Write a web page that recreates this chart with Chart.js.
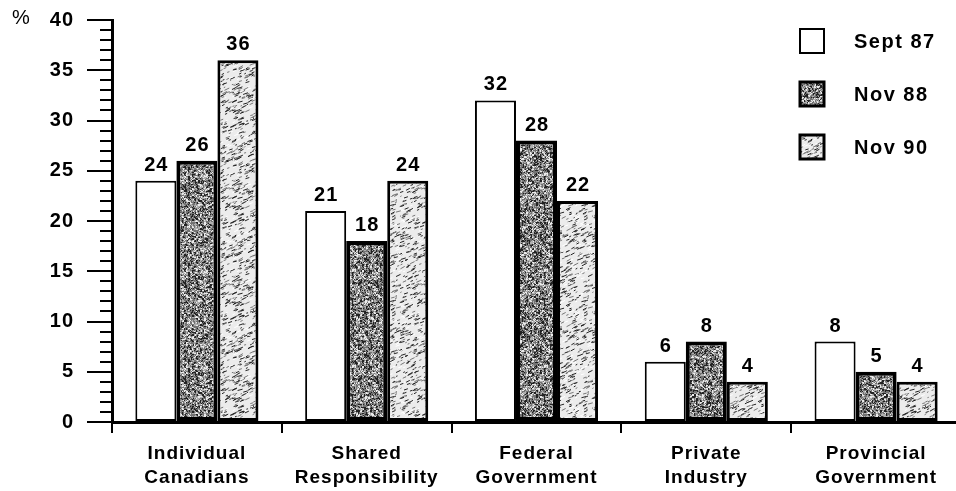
<!DOCTYPE html>
<html>
<head>
<meta charset="utf-8">
<script src="https://cdn.jsdelivr.net/npm/chart.js@4.4.1/dist/chart.umd.min.js"></script>
<style>
  html, body { margin: 0; padding: 0; background: #fff; overflow: hidden; }
  canvas { display: block; }
</style>
</head>
<body>
<canvas id="c" width="966" height="491"></canvas>
<script>
// Who should be responsible — survey waves, percent of respondents
const categories = [
  ['Individual', 'Canadians'],
  ['Shared', 'Responsibility'],
  ['Federal', 'Government'],
  ['Private', 'Industry'],
  ['Provincial', 'Government']
];
const seriesNames = ['Sept 87', 'Nov 88', 'Nov 90'];
const sept87 = [24, 21, 32, 6, 8];
const nov88 = [26, 18, 28, 8, 5];
const nov90 = [36, 24, 22, 4, 4];
const yMin = 0;
const yMax = 40;
const yMajorStep = 5;
const yMinorStep = 1;

const FONT = '"Liberation Sans", Arial, Helvetica, sans-serif';

// Small deterministic generator for the print-style screen textures
function makeRng(seed) {
  return function () {
    seed |= 0; seed = (seed + 0x6D2B79F5) | 0;
    let t = Math.imul(seed ^ (seed >>> 15), 1 | seed);
    t = (t + Math.imul(t ^ (t >>> 7), 61 | t)) ^ t;
    return ((t ^ (t >>> 14)) >>> 0) / 4294967296;
  };
}

// Dense dark halftone speckle
function darkTexture(size, seed) {
  const c = document.createElement('canvas');
  c.width = c.height = size;
  const g = c.getContext('2d');
  const img = g.createImageData(size, size);
  const rnd = makeRng(seed);
  const coarse = [];
  const cs = Math.ceil(size / 2);
  for (let i = 0; i < cs * cs; i++) coarse.push(rnd());
  for (let y = 0; y < size; y++) {
    for (let x = 0; x < size; x++) {
      const r = 0.5 * coarse[(y >> 1) * cs + (x >> 1)] + 0.5 * rnd();
      const v = r < 0.34 ? 35 : (r < 0.56 ? 115 : (r < 0.74 ? 175 : 235));
      const k = (y * size + x) * 4;
      img.data[k] = img.data[k + 1] = img.data[k + 2] = v;
      img.data[k + 3] = 255;
    }
  }
  g.putImageData(img, 0, 0);
  return g.createPattern(c, 'repeat');
}

// Light screen with short slanted streaks
function lightTexture(size, seed) {
  const c = document.createElement('canvas');
  c.width = c.height = size;
  const g = c.getContext('2d');
  const rnd = makeRng(seed);
  g.fillStyle = '#ececec';
  g.fillRect(0, 0, size, size);
  g.lineWidth = 1;
  const n = Math.floor(size * size / 11);
  for (let i = 0; i < n; i++) {
    const x = rnd() * size, y = rnd() * size;
    const len = 1 + rnd() * 4;
    const slope = -0.25 - rnd() * 0.35;
    const p = rnd();
    g.strokeStyle = p < 0.4 ? '#222' : (p < 0.75 ? '#777' : '#fff');
    for (const dx of [0, -size, size]) {
      for (const dy of [0, -size, size]) {
        g.beginPath();
        g.moveTo(x + dx, y + dy);
        g.lineTo(x + dx + len, y + dy + len * slope);
        g.stroke();
      }
    }
  }
  return g.createPattern(c, 'repeat');
}

const fills = ['#ffffff', darkTexture(96, 881), lightTexture(96, 901)];
const borders = [2, 4, 3];
const seriesValues = [sept87, nov88, nov90];

const datasets = seriesNames.map((name, i) => ({
  label: name,
  data: seriesValues[i],
  backgroundColor: fills[i],
  borderColor: '#000',
  borderWidth: borders[i],
  borderSkipped: false,
  categoryPercentage: 0.725,
  barPercentage: 1.0
}));

// Wider type spacing for all text on the canvas
const spacing = {
  id: 'spacing',
  beforeDraw(chart) { chart.ctx.letterSpacing = '1px'; }
};

// Minor ticks on the value axis, percent sign and value labels
const decorations = {
  id: 'decorations',
  afterDraw(chart) {
    const ctx = chart.ctx;
    const y = chart.scales.y;
    const left = chart.chartArea.left;
    ctx.save();
    ctx.strokeStyle = '#000';
    ctx.lineWidth = 2;
    for (let v = yMin; v <= yMax; v += yMinorStep) {
      if (v % yMajorStep === 0) continue;
      const py = Math.round(y.getPixelForValue(v));
      ctx.beginPath();
      ctx.moveTo(left - 12, py);
      ctx.lineTo(left, py);
      ctx.stroke();
    }
    ctx.fillStyle = '#000';
    ctx.letterSpacing = '0px';
    ctx.font = '20px ' + FONT;
    ctx.textAlign = 'center';
    ctx.textBaseline = 'middle';
    ctx.fillText('%', 21, 18);

    ctx.letterSpacing = '1px';
    ctx.font = 'bold 20px ' + FONT;
    ctx.textBaseline = 'alphabetic';
    chart.data.datasets.forEach((ds, di) => {
      const meta = chart.getDatasetMeta(di);
      meta.data.forEach((el, i) => {
        ctx.fillText(String(ds.data[i]), el.x + 0.5, el.y - 10);
      });
    });
    ctx.restore();
  }
};

// Legend column at top right
const legendBlock = {
  id: 'legendBlock',
  afterDraw(chart) {
    const ctx = chart.ctx;
    ctx.save();
    chart.data.datasets.forEach((ds, i) => {
      const bx = 800, by = 29 + 53 * i, s = 24;
      ctx.fillStyle = ds.backgroundColor;
      ctx.fillRect(bx, by, s, s);
      ctx.strokeStyle = '#000';
      ctx.lineWidth = i === 0 ? 2 : 3;
      ctx.strokeRect(bx, by, s, s);
      ctx.fillStyle = '#000';
      ctx.letterSpacing = '1.5px';
      ctx.font = 'bold 20px ' + FONT;
      ctx.textAlign = 'left';
      ctx.textBaseline = 'middle';
      ctx.fillText(ds.label, 854, by + s / 2 + 1);
    });
    ctx.restore();
  }
};

new Chart(document.getElementById('c'), {
  type: 'bar',
  data: { labels: categories, datasets },
  options: {
    responsive: false,
    animation: false,
    devicePixelRatio: 1,
    layout: { padding: { top: 20, right: 5, left: 0, bottom: 0 } },
    plugins: { legend: { display: false }, tooltip: { enabled: false } },
    scales: {
      x: {
        afterFit(scale) {
          scale.height = 69;
          scale.paddingTop = 0;
          scale.paddingBottom = 0;
        },
        grid: {
          offset: true,
          drawOnChartArea: false,
          color: '#000',
          lineWidth: 2,
          tickLength: 11
        },
        border: { display: true, color: '#000', width: 3 },
        ticks: {
          color: '#000',
          font: { family: FONT, size: 19, weight: 'bold', lineHeight: 1.25 },
          padding: 9,
          maxRotation: 0,
          autoSkip: false
        }
      },
      y: {
        min: yMin,
        max: yMax,
        afterFit(scale) {
          scale.width = 112;
          scale.paddingTop = 0;
          scale.paddingBottom = 0;
        },
        grid: {
          drawOnChartArea: false,
          color: '#000',
          lineWidth: 2,
          tickLength: 25
        },
        border: { display: true, color: '#000', width: 3 },
        ticks: {
          stepSize: yMajorStep,
          autoSkip: false,
          color: '#000',
          padding: 13,
          font: { family: FONT, size: 20, weight: 'bold' }
        }
      }
    }
  },
  plugins: [spacing, decorations, legendBlock]
});
</script>
</body>
</html>
